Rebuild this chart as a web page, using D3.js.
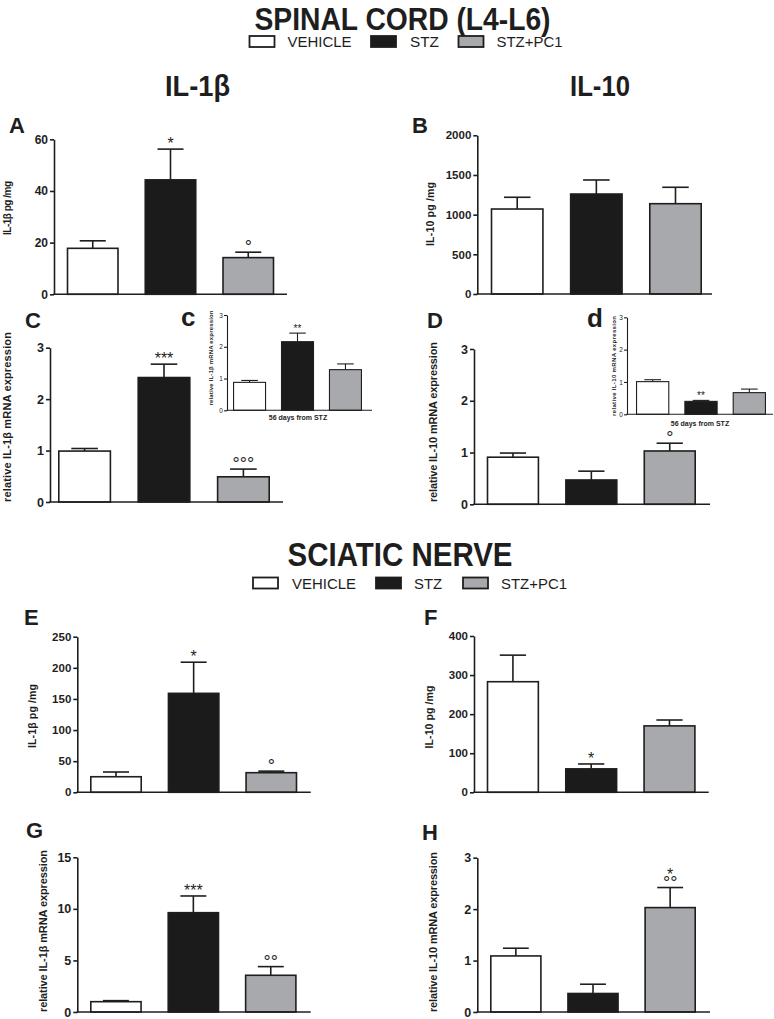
<!DOCTYPE html>
<html><head><meta charset="utf-8">
<script src="https://cdn.jsdelivr.net/npm/d3@7"></script>
<style>body{margin:0;background:#fff}svg{display:block}</style>
</head><body>
<svg id="chart" width="774" height="1019"></svg>
<script>
// ---------- DATA ----------
const groups = ["VEHICLE", "STZ", "STZ+PC1"];

// Spinal cord (L4-L6)
const aMean = [17.8, 44.3, 14.2],  aSem = [2.9, 11.9, 2.1],   aSig = ["", "*", "°"];
const bMean = [1071, 1260, 1138],  bSem = [148, 177, 207],    bSig = ["", "", ""];
const cMean = [0.99, 2.42, 0.49],  cSem = [0.05, 0.26, 0.15], cSig = ["", "***", "°°°"];
const ciMean = [0.88, 2.16, 1.28], ciSem = [0.06, 0.27, 0.18], ciSig = ["", "**", ""];
const dMean = [0.91, 0.47, 1.03],  dSem = [0.08, 0.17, 0.15], dSig = ["", "", "°"];
const diMean = [1.01, 0.40, 0.67], diSem = [0.06, 0.03, 0.11], diSig = ["", "**", ""];
// Sciatic nerve
const eMean = [25, 159, 31.5],     eSem = [7.6, 50, 2.5],     eSig = ["", "*", "°"];
const fMean = [283, 60, 170],      fSem = [68, 12.5, 15],     fSig = ["", "*", ""];
const gMean = [1.0, 9.63, 3.56],   gSem = [0.1, 1.62, 0.84],  gSig = ["", "***", "°°"];
const hMean = [1.09, 0.36, 2.03],  hSem = [0.15, 0.18, 0.39], hSig = ["", "", "°°|*"];

const aTicks = [0, 20, 40, 60];
const bTicks = [0, 500, 1000, 1500, 2000];
const mrnaTicks = [0, 1, 2, 3];
const eTicks = [0, 50, 100, 150, 200, 250];
const fTicks = [0, 100, 200, 300, 400];
const gTicks = [0, 5, 10, 15];

// ---------- STYLE ----------
const fills = {"VEHICLE": "#ffffff", "STZ": "#1b1b1b", "STZ+PC1": "#a8a9ad"};
const ink = "#1e1e1e";
const FONT = "'Liberation Sans', Arial, Helvetica, sans-serif";
const NARROW = "'Liberation Sans Narrow', 'Arial Narrow', 'Liberation Sans', Arial, sans-serif";

const svg = d3.select("#chart");

const panels = [
  {mean: aMean, sem: aSem, sig: aSig, ticks: aTicks, ax: 54, xEnd: 287, yTop: 139.3, y0: 294.3, b0: 66.7, b1: 274.3, fs: 12},
  {mean: bMean, sem: bSem, sig: bSig, ticks: bTicks, ax: 477.3, xEnd: 712, yTop: 135.3, y0: 294, b0: 490.7, b1: 702, fs: 11.5},
  {mean: cMean, sem: cSem, sig: cSig, ticks: mrnaTicks, ax: 50, xEnd: 283, yTop: 347.7, y0: 502, b0: 58, b1: 270, fs: 12.5},
  {mean: dMean, sem: dSem, sig: dSig, ticks: mrnaTicks, ax: 474, xEnd: 710, yTop: 349, y0: 504.3, b0: 486.7, b1: 696, fs: 12.5},
  {mean: eMean, sem: eSem, sig: eSig, ticks: eTicks, ax: 77.3, xEnd: 310.7, yTop: 636.7, y0: 792.3, b0: 90, b1: 297.3, fs: 11.5},
  {mean: fMean, sem: fSem, sig: fSig, ticks: fTicks, ax: 474, xEnd: 708.7, yTop: 636, y0: 792.3, b0: 486.7, b1: 695.7, fs: 11.5},
  {mean: gMean, sem: gSem, sig: gSig, ticks: gTicks, ax: 77.3, xEnd: 310.7, yTop: 857.3, y0: 1012, b0: 90, b1: 296.7, fs: 12.5},
  {mean: hMean, sem: hSem, sig: hSig, ticks: mrnaTicks, ax: 477.3, xEnd: 710, yTop: 857.7, y0: 1012, b0: 490, b1: 696, fs: 12.5},
  {mean: ciMean, sem: ciSem, sig: ciSig, ticks: mrnaTicks, ax: 227, xEnd: 372, yTop: 315, y0: 410.3, b0: 233, b1: 362, inset: true, fs: 6.5},
  {mean: diMean, sem: diSem, sig: diSig, ticks: mrnaTicks, ax: 627, xEnd: 773, yTop: 317.3, y0: 414.3, b0: 636, b1: 766, inset: true, fs: 6.5}
];

function drawPanel(p) {
  const inset = !!p.inset;
  const sw = inset ? 1.1 : 1.6;
  const x = d3.scaleBand().domain(groups).range([p.b0, p.b1]).paddingInner(inset ? 0.31 : 0.33);
  const y = d3.scaleLinear().domain([0, p.ticks[p.ticks.length - 1]]).range([p.y0, p.yTop]);
  const g = svg.append("g");
  const bw = x.bandwidth();
  const rows = groups.map((k, i) => ({k, m: p.mean[i], s: p.sem[i], sig: p.sig[i]}));

  // error bars (upper only)
  const eb = g.append("g").attr("stroke", ink).attr("stroke-width", sw).attr("fill", "none");
  rows.forEach(r => {
    const cx = x(r.k) + bw / 2;
    eb.append("line").attr("x1", cx).attr("x2", cx).attr("y1", y(r.m)).attr("y2", y(r.m + r.s));
    eb.append("line").attr("x1", cx - bw / 4).attr("x2", cx + bw / 4).attr("y1", y(r.m + r.s)).attr("y2", y(r.m + r.s));
  });

  // bars
  g.append("g").selectAll("rect").data(rows).join("rect")
    .attr("x", d => x(d.k) + sw / 2)
    .attr("y", d => y(d.m))
    .attr("width", bw - sw)
    .attr("height", d => y(0) - y(d.m))
    .attr("fill", d => fills[d.k])
    .attr("stroke", ink).attr("stroke-width", sw);

  // y axis
  const axis = d3.axisLeft(y).tickValues(p.ticks).tickSizeInner(inset ? 3 : 4).tickSizeOuter(0)
    .tickPadding(inset ? 1.2 : 2).tickFormat(d3.format("d"));
  const ag = g.append("g").attr("transform", `translate(${p.ax},0)`).call(axis);
  ag.select(".domain").attr("stroke", ink).attr("stroke-width", sw);
  ag.selectAll(".tick line").attr("stroke", ink).attr("stroke-width", sw);
  ag.selectAll(".tick text").attr("fill", ink).attr("font-family", FONT)
    .attr("font-weight", inset ? "normal" : "bold").attr("font-size", p.fs);

  // x axis baseline
  g.append("line").attr("x1", p.ax - sw / 2).attr("x2", p.xEnd).attr("y1", p.y0).attr("y2", p.y0)
    .attr("stroke", ink).attr("stroke-width", sw);

  // significance marks (one text element per bar; stacked lines as tspans)
  rows.forEach(r => {
    if (!r.sig) return;
    const cx = x(r.k) + bw / 2;
    const top = y(r.m + r.s);
    const parts = r.sig.split("|");
    const t = g.append("text").attr("text-anchor", "middle").attr("font-family", FONT).attr("fill", ink);
    let base = top;
    parts.forEach(s => {
      const isStar = s.includes("*");
      if (isStar) {
        const fsz = inset ? 10 : 16;
        const off = inset ? 1 : 0;
        t.append("tspan").attr("x", cx).attr("y", base - off).attr("font-size", fsz).text(s);
        base = base - off - 8;
      } else {
        t.append("tspan").attr("x", cx).attr("y", base + 1).attr("font-size", 18).text(s);
        base = base - 7.7;
      }
    });
  });
}
panels.forEach(drawPanel);

// ---------- TEXT ----------
function ylabel(text, cx, cy, len, size) {
  svg.append("text").attr("transform", `translate(${cx},${cy}) rotate(-90)`)
    .attr("text-anchor", "middle").attr("dominant-baseline", "central")
    .attr("font-family", FONT).attr("font-weight", "bold").attr("font-size", size).attr("fill", ink)
    .attr("textLength", len).attr("lengthAdjust", "spacing").text(text);
}
ylabel("IL-1β pg /mg", 7, 208, 54, 10);
ylabel("IL-10 pg /mg", 430, 214, 64, 10.5);
ylabel("relative IL-1β mRNA expression", 7, 417, 170, 11);
ylabel("relative IL-10 mRNA expression", 433, 422, 160, 11);
ylabel("IL-1β pg /mg", 32, 716, 64, 10.5);
ylabel("IL-10 pg /mg", 429, 717, 63, 10.5);
ylabel("relative IL-1β mRNA expression", 43, 931, 162, 11);
ylabel("relative IL-10 mRNA expression", 433, 932, 160, 11);
ylabel("relative IL-1β mRNA expression", 211, 358, 95, 6);
ylabel("relative IL-10 mRNA expression", 614, 366, 100, 6);

function xlab(text, cx, cy) {
  svg.append("text").attr("x", cx).attr("y", cy).attr("text-anchor", "middle").attr("dominant-baseline", "central")
    .attr("font-family", FONT).attr("font-weight", "bold").attr("font-size", 7).attr("fill", ink).text(text);
}
xlab("56 days from STZ", 298, 417);
xlab("56 days from STZ", 700, 423);

function letter(t, x, y, size) {
  svg.append("text").attr("x", x).attr("y", y).attr("font-family", FONT).attr("font-weight", "bold")
    .attr("font-size", size).attr("fill", ink).text(t);
}
letter("A", 9, 133, 22); letter("B", 412, 133, 22);
letter("C", 25, 328, 22); letter("c", 181, 326, 26);
letter("D", 427, 328, 22); letter("d", 587, 327, 26);
letter("E", 24, 625, 22); letter("F", 424, 625, 22);
letter("G", 26, 838, 22); letter("H", 422, 840, 22);

function heading(t, cx, y, size, len) {
  svg.append("text").attr("x", cx).attr("y", y).attr("text-anchor", "middle")
    .attr("font-family", NARROW).attr("font-weight", "bold").attr("font-size", size).attr("fill", ink)
    .attr("textLength", len).attr("lengthAdjust", "spacingAndGlyphs").text(t);
}
heading("SPINAL CORD (L4-L6)", 402.5, 29.5, 32, 296);
heading("IL-1β", 197.5, 96, 29, 65);
heading("IL-10", 600, 96, 29, 60);
heading("SCIATIC NERVE", 400, 566, 34, 225);

// legends
function legend(xs, cy, base) {
  const g = svg.append("g");
  groups.forEach((k, i) => {
    const L = xs[i];
    g.append("rect").attr("x", L.r).attr("y", cy - 5.5).attr("width", 25).attr("height", 11)
      .attr("fill", fills[k]).attr("stroke", ink).attr("stroke-width", 1.8);
    g.append("text").attr("x", L.t).attr("y", base).attr("font-family", NARROW)
      .attr("font-size", 14.5).attr("fill", ink).attr("textLength", L.w).attr("lengthAdjust", "spacingAndGlyphs").text(k);
  });
}
legend([{r: 249.5, t: 287.5, w: 64}, {r: 371, t: 410, w: 29}, {r: 458.5, t: 496.5, w: 66}], 41.5, 47);
legend([{r: 253, t: 292, w: 64}, {r: 376, t: 414, w: 28}, {r: 463, t: 501, w: 66}], 583, 588.5);
</script>
</body></html>
